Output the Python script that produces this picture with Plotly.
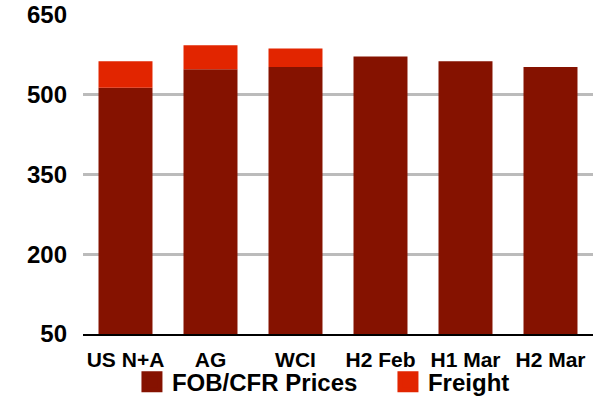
import plotly.graph_objects as go

categories = ["US N+A", "AG", "WCI", "H2 Feb", "H1 Mar", "H2 Mar"]
fob_cfr = [513, 548, 552, 572, 563, 552]
freight = [50, 45, 35, 0, 0, 0]
y_ticks = [50, 200, 350, 500, 650]

FONT = "Liberation Sans"
DARK = "#851200"
BRIGHT = "#E22500"

fig = go.Figure()
fig.add_trace(go.Bar(x=categories, y=[v - 50 for v in fob_cfr], base=50,
                     name="FOB/CFR Prices", marker_color=DARK,
                     marker_line_width=0, showlegend=False, legendgroup="fob"))
fig.add_trace(go.Bar(x=categories, y=freight, base=fob_cfr,
                     name="Freight", marker_color=BRIGHT,
                     marker_line_width=0, showlegend=False, legendgroup="fr"))
# legend entries (larger square swatches)
fig.add_trace(go.Scatter(x=[None], y=[None], mode="markers", name="FOB/CFR Prices",
                         legendgroup="fob",
                         marker=dict(symbol="square", size=16, color=DARK,
                                     line=dict(color=DARK, width=5))))
fig.add_trace(go.Scatter(x=[None], y=[None], mode="markers", name="Freight",
                         legendgroup="fr",
                         marker=dict(symbol="square", size=16, color=BRIGHT,
                                     line=dict(color=BRIGHT, width=5))))

fig.update_layout(
    width=599, height=399,
    barmode="overlay", bargap=0.365,
    plot_bgcolor="white", paper_bgcolor="white",
    margin=dict(l=83, r=6, t=14.5, b=64.5, autoexpand=False),
    font=dict(family=FONT, color="black"),
    showlegend=True,
    legend=dict(orientation="h", x=0.096, xanchor="left", y=-0.151, yanchor="middle",
                font=dict(family=FONT, size=24, weight="bold"),
                entrywidth=211, entrywidthmode="pixels", itemsizing="trace",
                traceorder="normal", bgcolor="rgba(0,0,0,0)"),
    xaxis=dict(showgrid=False, showline=True, linecolor="black", linewidth=2,
               ticks="", ticklabelstandoff=6,
               tickfont=dict(family=FONT, size=21, weight="bold")),
    yaxis=dict(range=[50, 650], tickvals=y_ticks, showgrid=True,
               gridcolor="#bbbbbb", gridwidth=2.5, zeroline=False,
               showline=False, ticks="", ticklabelstandoff=15,
               tickfont=dict(family=FONT, size=24, weight="bold")),
)

fig.write_html("out.html", config={"displayModeBar": False},
               post_script="document.body.style.margin='0';")
